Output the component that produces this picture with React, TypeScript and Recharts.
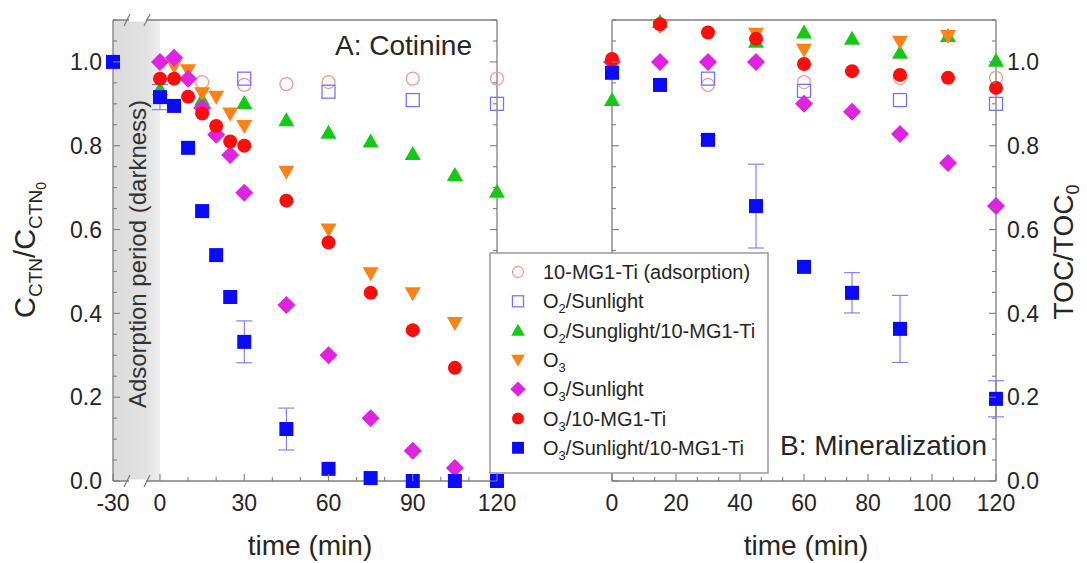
import React from "react";
import { ScatterChart, Scatter, XAxis, YAxis, ErrorBar, ReferenceArea } from "recharts";

const FONT = '"Liberation Sans", Arial, Helvetica, sans-serif';
const INK = "#262626";
const FRAME = "#7f7f7f";

// A: cotinine, C/C0 vs time (min). t = -30 is the start of the dark adsorption step.
const adsA_t = [15, 30, 45, 60, 90, 120];
const adsA_v = [0.952, 0.945, 0.947, 0.952, 0.96, 0.96];
const o2SunA_t = [30, 60, 90, 120];
const o2SunA_v = [0.96, 0.929, 0.909, 0.9];
const o2SunTiA_t = [0, 15, 30, 45, 60, 75, 90, 105, 120];
const o2SunTiA_v = [0.935, 0.91, 0.902, 0.861, 0.831, 0.81, 0.78, 0.73, 0.69];
const o3A_t = [5, 10, 15, 20, 25, 30, 45, 60, 75, 90, 105];
const o3A_v = [0.99, 0.98, 0.925, 0.917, 0.877, 0.847, 0.738, 0.6, 0.496, 0.448, 0.377];
const o3SunA_t = [0, 5, 10, 15, 20, 25, 30, 45, 60, 75, 90, 105];
const o3SunA_v = [1.0, 1.01, 0.96, 0.89, 0.826, 0.778, 0.688, 0.42, 0.3, 0.15, 0.072, 0.031];
const o3TiA_t = [0, 5, 10, 15, 20, 25, 30, 45, 60, 75, 90, 105];
const o3TiA_v = [0.96, 0.96, 0.917, 0.877, 0.847, 0.81, 0.8, 0.669, 0.569, 0.449, 0.36, 0.27];
const o3SunTiA_t = [-30, 0, 5, 10, 15, 20, 25, 30, 45, 60, 75, 90, 105, 120];
const o3SunTiA_v = [1.0, 0.916, 0.895, 0.795, 0.644, 0.539, 0.439, 0.332, 0.124, 0.029, 0.007, 0, 0, 0];
const o3SunTiA_err = [0, 0.03, 0, 0, 0, 0, 0, 0.05, 0.05, 0, 0, 0, 0, 0];

// B: mineralization, TOC/TOC0 vs time (min)
const adsB_t = [30, 60, 90, 120];
const adsB_v = [0.945, 0.952, 0.962, 0.962];
const o2SunB_t = [30, 60, 90, 120];
const o2SunB_v = [0.96, 0.931, 0.909, 0.9];
const o2SunTiB_t = [0, 15, 45, 60, 75, 90, 105, 120];
const o2SunTiB_v = [0.909, 1.095, 1.048, 1.07, 1.055, 1.022, 1.062, 1.003];
const o3B_t = [15, 45, 60, 90, 105];
const o3B_v = [1.085, 1.067, 1.029, 1.048, 1.062];
const o3SunB_t = [0, 15, 30, 45, 60, 75, 90, 105, 120];
const o3SunB_v = [1.0, 1.0, 1.0, 1.0, 0.9, 0.881, 0.828, 0.759, 0.656];
const o3TiB_t = [0, 15, 30, 45, 60, 75, 90, 105, 120];
const o3TiB_v = [1.007, 1.09, 1.07, 1.055, 0.995, 0.978, 0.969, 0.962, 0.938];
const o3SunTiB_t = [0, 15, 30, 45, 60, 75, 90, 120];
const o3SunTiB_v = [0.974, 0.945, 0.814, 0.656, 0.511, 0.449, 0.363, 0.196];
const o3SunTiB_err = [0, 0, 0.01, 0.1, 0, 0.048, 0.08, 0.043];

// axis ticks
const Y_MAJOR = [0, 0.2, 0.4, 0.6, 0.8, 1.0];
const X_MAJOR_A = [-30, 0, 30, 60, 90, 120];
const X_MAJOR_B = [0, 20, 40, 60, 80, 100, 120];

// the -30..0 dark period is squeezed on panel A's axis
const BREAK = 47 / 84.25;
const toAxisA = (t: number) => (t < 0 ? t * BREAK : t);
const fromAxisA = (v: number) => (v < 0 ? Math.round(v / BREAK) : Math.round(v));

type Kind = "openCircle" | "openSquare" | "triUp" | "triDown" | "diamond" | "circle" | "square";
type Piece = [string, boolean];

const SERIES_STYLE: { kind: Kind; color: string; label: Piece[] }[] = [
  { kind: "openCircle", color: "#f39a9a", label: [["10-MG1-Ti (adsorption)", false]] },
  { kind: "openSquare", color: "#7474ff", label: [["O", false], ["2", true], ["/Sunlight", false]] },
  { kind: "triUp", color: "#14c814", label: [["O", false], ["2", true], ["/Sunglight/10-MG1-Ti", false]] },
  { kind: "triDown", color: "#ff8216", label: [["O", false], ["3", true]] },
  { kind: "diamond", color: "#e023e0", label: [["O", false], ["3", true], ["/Sunlight", false]] },
  { kind: "circle", color: "#ff0d0d", label: [["O", false], ["3", true], ["/10-MG1-Ti", false]] },
  { kind: "square", color: "#0a0aff", label: [["O", false], ["3", true], ["/Sunlight/10-MG1-Ti", false]] },
];

type Pt = { x: number; y: number; err?: number };

const pts = (t: number[], v: number[], err?: number[], map = (x: number) => x): Pt[] =>
  t.map((ti, i) => ({ x: map(ti), y: v[i], err: err && err[i] ? err[i] : undefined }));

const seriesA = [
  pts(adsA_t, adsA_v),
  pts(o2SunA_t, o2SunA_v),
  pts(o2SunTiA_t, o2SunTiA_v),
  pts(o3A_t, o3A_v, undefined, toAxisA),
  pts(o3SunA_t, o3SunA_v),
  pts(o3TiA_t, o3TiA_v),
  pts(o3SunTiA_t, o3SunTiA_v, o3SunTiA_err, toAxisA),
];

const seriesB = [
  pts(adsB_t, adsB_v),
  pts(o2SunB_t, o2SunB_v),
  pts(o2SunTiB_t, o2SunTiB_v),
  pts(o3B_t, o3B_v),
  pts(o3SunB_t, o3SunB_v),
  pts(o3TiB_t, o3TiB_v),
  pts(o3SunTiB_t, o3SunTiB_v, o3SunTiB_err),
];

function Marker({ kind, color, cx, cy, k = 1 }: { kind: Kind; color: string; cx: number; cy: number; k?: number }) {
  switch (kind) {
    case "openCircle":
      return <circle cx={cx} cy={cy} r={6.5 * k} fill="none" stroke={color} strokeWidth={1.3} />;
    case "openSquare": {
      const h = 6.5 * k;
      return <rect x={cx - h} y={cy - h} width={2 * h} height={2 * h} fill="none" stroke={color} strokeWidth={1.3} />;
    }
    case "triUp": {
      const a = 8 * k;
      return <polygon points={`${cx},${cy - a} ${cx + a},${cy + 0.75 * a} ${cx - a},${cy + 0.75 * a}`} fill={color} />;
    }
    case "triDown": {
      const a = 8 * k;
      return <polygon points={`${cx - a},${cy - 0.75 * a} ${cx + a},${cy - 0.75 * a} ${cx},${cy + a}`} fill={color} />;
    }
    case "diamond": {
      const a = 9 * k;
      return <polygon points={`${cx},${cy - a} ${cx + a},${cy} ${cx},${cy + a} ${cx - a},${cy}`} fill={color} />;
    }
    case "circle":
      return <circle cx={cx} cy={cy} r={7 * k} fill={color} />;
    default: {
      const h = 7 * k;
      return <rect x={cx - h} y={cy - h} width={2 * h} height={2 * h} fill={color} />;
    }
  }
}

const near = (list: number[], v: number) => list.some((m) => Math.abs(m - v) < 1e-6);

// dir = 1 for the bottom axis (ticks point up), -1 for the top one
function xTick(dir: number, majors: number[], fmt?: (v: number) => string) {
  return (p: any) => {
    const v = p.payload.value;
    const major = near(majors, v);
    const len = major ? 7 : 4;
    return (
      <g>
        <line x1={p.x} x2={p.x} y1={p.y} y2={p.y - dir * len} stroke={FRAME} strokeWidth={1.1} />
        {fmt && major && (
          <text x={p.x} y={p.y + 30} textAnchor="middle" fontSize={23} fontFamily={FONT} fill={INK}>
            {fmt(v)}
          </text>
        )}
      </g>
    );
  };
}

// dir = 1 for a left axis (ticks point right), -1 for a right one
function yTick(dir: number, labels: boolean) {
  return (p: any) => {
    const v = p.payload.value;
    const major = near(Y_MAJOR, v);
    const len = major ? 7 : 4;
    return (
      <g>
        <line x1={p.x} x2={p.x + dir * len} y1={p.y} y2={p.y} stroke={FRAME} strokeWidth={1.1} />
        {labels && major && (
          <text
            x={p.x - dir * 11}
            y={p.y}
            dy="0.36em"
            textAnchor={dir > 0 ? "end" : "start"}
            fontSize={23}
            fontFamily={FONT}
            fill={INK}
          >
            {v.toFixed(1)}
          </text>
        )}
      </g>
    );
  };
}

const Y_TICKS = Array.from({ length: 23 }, (_, i) => +(i * 0.05).toFixed(2));
const X_TICKS_A = [toAxisA(-30), ...Array.from({ length: 13 }, (_, i) => i * 10)];
const X_TICKS_B = Array.from({ length: 19 }, (_, i) => (i * 20) / 3);
const X_MAJOR_A_AX = X_MAJOR_A.map(toAxisA);

const axisLine = { stroke: FRAME, strokeWidth: 1.3 };
const noMark = () => <g />;

function Panel({
  series,
  width,
  margin,
  xDomain,
  xTicks,
  xMajors,
  xFmt,
  labelsLeft,
  band,
}: {
  series: Pt[][];
  width: number;
  margin: { top: number; right: number; bottom: number; left: number };
  xDomain: [number, number];
  xTicks: number[];
  xMajors: number[];
  xFmt: (v: number) => string;
  labelsLeft: boolean;
  band?: [number, number];
}) {
  const withErr = series[series.length - 1];
  return (
    <ScatterChart width={width} height={563} margin={margin}>
      <defs>
        <linearGradient id="darkBand" x1="0" y1="0" x2="1" y2="0">
          <stop offset="0" stopColor="#dcdcdc" />
          <stop offset="0.7" stopColor="#e2e2e2" />
          <stop offset="1" stopColor="#efefef" />
        </linearGradient>
      </defs>
      <XAxis
        xAxisId="b"
        type="number"
        dataKey="x"
        domain={xDomain}
        ticks={xTicks}
        interval={0}
        height={1}
        tickSize={0}
        tickMargin={0}
        axisLine={axisLine}
        tickLine={false}
        tick={xTick(1, xMajors, xFmt)}
      />
      <XAxis
        xAxisId="t"
        orientation="top"
        type="number"
        domain={xDomain}
        allowDataOverflow
        ticks={xTicks}
        interval={0}
        height={1}
        tickSize={0}
        tickMargin={0}
        axisLine={axisLine}
        tickLine={false}
        tick={xTick(-1, xMajors)}
      />
      <YAxis
        yAxisId="l"
        type="number"
        dataKey="y"
        domain={[0, 1.1]}
        ticks={Y_TICKS}
        interval={0}
        width={1}
        tickSize={0}
        tickMargin={0}
        axisLine={axisLine}
        tickLine={false}
        tick={yTick(1, labelsLeft)}
      />
      <YAxis
        yAxisId="r"
        orientation="right"
        type="number"
        domain={[0, 1.1]}
        allowDataOverflow
        ticks={Y_TICKS}
        interval={0}
        width={1}
        tickSize={0}
        tickMargin={0}
        axisLine={axisLine}
        tickLine={false}
        tick={yTick(-1, !labelsLeft)}
      />
      {band && (
        <ReferenceArea
          xAxisId="b"
          yAxisId="l"
          x1={band[0]}
          x2={band[1]}
          y1={0}
          y2={1.1}
          fill="url(#darkBand)"
          fillOpacity={1}
          stroke="none"
        />
      )}
      {/* error bars go underneath all the symbols */}
      <Scatter xAxisId="b" yAxisId="l" data={withErr} isAnimationActive={false} shape={noMark}>
        <ErrorBar dataKey="err" direction="y" width={8} stroke="#6b6bff" strokeWidth={1} />
      </Scatter>
      {series.map((data, i) => {
        const st = SERIES_STYLE[i];
        return (
          <Scatter
            key={i}
            xAxisId="b"
            yAxisId="l"
            data={data}
            isAnimationActive={false}
            shape={(p: any) => <Marker kind={st.kind} color={st.color} cx={p.cx} cy={p.cy} />}
          />
        );
      })}
    </ScatterChart>
  );
}

function LegendLabel({ x, y, label }: { x: number; y: number; label: Piece[] }) {
  let prevSub = false;
  return (
    <text x={x} y={y} fontSize={20} fontFamily={FONT} fill={INK}>
      {label.map(([t, sub], j) => {
        const dy = sub ? 5 : prevSub ? -5 : 0;
        prevSub = sub;
        return (
          <tspan key={j} dy={dy} fontSize={sub ? 13 : 20}>
            {t}
          </tspan>
        );
      })}
    </text>
  );
}

function BreakMarks({ y }: { y: number }) {
  return (
    <g>
      <rect x={129} y={y - 1.5} width={17} height={3} fill="#fff" />
      <line x1={124} y1={y + 6} x2={130} y2={y - 6} stroke={FRAME} strokeWidth={1.2} />
      <line x1={144} y1={y + 6} x2={150} y2={y - 6} stroke={FRAME} strokeWidth={1.2} />
    </g>
  );
}

export default function App() {
  return (
    <div style={{ position: "absolute", left: 0, top: 0, width: 1087, height: 563, background: "#fff" }}>
      <div style={{ position: "absolute", left: 0, top: 0 }}>
        <Panel
          series={seriesA}
          width={540}
          margin={{ top: 19, right: 42, bottom: 81, left: 112 }}
          xDomain={[toAxisA(-30), 120]}
          xTicks={X_TICKS_A}
          xMajors={X_MAJOR_A_AX}
          xFmt={(v) => String(fromAxisA(v))}
          labelsLeft
          band={[toAxisA(-30), 0]}
        />
      </div>
      <div style={{ position: "absolute", left: 540, top: 0 }}>
        <Panel
          series={seriesB}
          width={547}
          margin={{ top: 19, right: 90, bottom: 81, left: 71 }}
          xDomain={[0, 120]}
          xTicks={X_TICKS_B}
          xMajors={X_MAJOR_B}
          xFmt={(v) => String(Math.round(v))}
          labelsLeft={false}
        />
      </div>
      <svg
        width={1087}
        height={563}
        style={{ position: "absolute", left: 0, top: 0, pointerEvents: "none" }}
        fontFamily={FONT}
      >
        <BreakMarks y={20} />
        <BreakMarks y={481} />
        <text transform="translate(146,254) rotate(-90)" textAnchor="middle" fontSize={24} fill="#333">
          Adsorption period (darkness)
        </text>
        <text x={472} y={55} textAnchor="end" fontSize={28} fill={INK}>
          A: Cotinine
        </text>
        <text x={987} y={455} textAnchor="end" fontSize={28} fill={INK}>
          B: Mineralization
        </text>
        <text x={310} y={555} textAnchor="middle" fontSize={28} fill={INK}>
          time (min)
        </text>
        <text x={806} y={555} textAnchor="middle" fontSize={28} fill={INK}>
          time (min)
        </text>
        <text transform="translate(35,250) rotate(-90)" textAnchor="middle" fontSize={29} fill={INK}>
          <tspan>C</tspan>
          <tspan dy={7} fontSize={19}>CTN</tspan>
          <tspan dy={-7}>/C</tspan>
          <tspan dy={7} fontSize={19}>CTN</tspan>
          <tspan dy={4} fontSize={14}>0</tspan>
        </text>
        <text transform="translate(1073,252) rotate(-90)" textAnchor="middle" fontSize={28} fill={INK}>
          <tspan>TOC/TOC</tspan>
          <tspan dy={6} fontSize={18}>0</tspan>
        </text>
        <rect x={490} y={253} width={278} height={220} fill="#fff" stroke="#8c8c8c" strokeWidth={1.3} />
        {SERIES_STYLE.map((s, i) => {
          const cy = 272 + i * 29.3;
          return (
            <g key={i}>
              <Marker kind={s.kind} color={s.color} cx={518} cy={cy} k={0.85} />
              <LegendLabel x={543} y={cy + 7} label={s.label} />
            </g>
          );
        })}
      </svg>
    </div>
  );
}
